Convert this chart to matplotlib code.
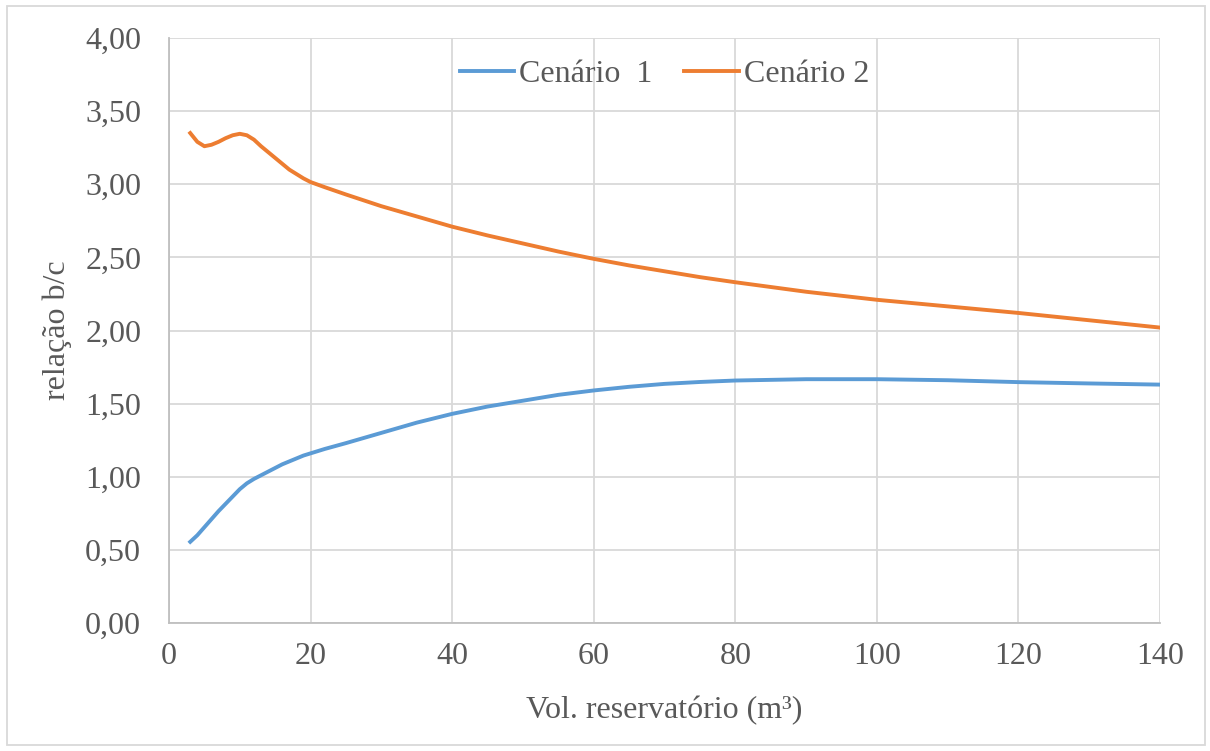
import matplotlib.pyplot as plt
from matplotlib.ticker import MultipleLocator, FuncFormatter
from matplotlib.patches import Rectangle

plt.rcParams['font.family'] = ['Liberation Serif', 'DejaVu Serif']

# volume do reservatorio (m3)
vol = [3, 4, 5, 6, 7, 8, 9, 10, 11, 12, 13, 14, 15, 16, 17, 18, 19, 20, 22,
       25, 30, 35, 40, 45, 50, 55, 60, 65, 70, 75, 80, 90, 100, 110, 120,
       130, 140]
cenario1 = [0.555, 0.60, 0.655, 0.71, 0.765, 0.815, 0.865, 0.915, 0.955,
            0.985, 1.01, 1.035, 1.06, 1.085, 1.105, 1.125, 1.145, 1.16, 1.19,
            1.23, 1.30, 1.37, 1.43, 1.48, 1.52, 1.56, 1.59, 1.615, 1.635,
            1.648, 1.658, 1.667, 1.667, 1.66, 1.647, 1.638, 1.63]
cenario2 = [3.35, 3.29, 3.26, 3.27, 3.29, 3.315, 3.335, 3.345, 3.335, 3.305,
            3.26, 3.22, 3.18, 3.14, 3.10, 3.07, 3.04, 3.015, 2.98, 2.93,
            2.85, 2.78, 2.71, 2.65, 2.595, 2.54, 2.49, 2.445, 2.405, 2.365,
            2.33, 2.265, 2.21, 2.165, 2.12, 2.07, 2.02]

txt = '#595959'

fig = plt.figure(figsize=(12.1, 7.51), dpi=100)
ax = fig.add_axes([169/1210, 1-623/751, (1160-169)/1210, (623-38)/751])

ax.plot(vol, cenario1, color='#5B9BD5', lw=2.8, label='Cenário  1')
ax.plot(vol, cenario2, color='#ED7D31', lw=2.8, label='Cenário 2')

ax.set_xlim(0, 140)
ax.set_ylim(0, 4)
ax.xaxis.set_major_locator(MultipleLocator(20))
ax.yaxis.set_major_locator(MultipleLocator(0.5))
ax.yaxis.set_major_formatter(FuncFormatter(lambda v, p: f'{v:.2f}'.replace('.', ',')))
ax.grid(True, color='#d9d9d9', lw=1.3)
ax.set_axisbelow(True)
for s in ['top', 'right']:
    ax.spines[s].set_visible(False)
for s in ['left', 'bottom']:
    ax.spines[s].set_color('#bfbfbf')
    ax.spines[s].set_linewidth(1.3)
ax.tick_params(axis='both', length=0, labelsize=23, labelcolor=txt)
ax.tick_params(axis='x', pad=14)
ax.tick_params(axis='y', pad=20)

ax.set_xlabel('Vol. reservatório (m³)', fontsize=23, color=txt)
ax.set_ylabel('relação b/c', fontsize=23, color=txt)
ax.xaxis.set_label_coords(0.5, -0.125)
ax.yaxis.set_label_coords(-0.098, 0.5)

ax.legend(loc='upper center', bbox_to_anchor=(0.5, 1.012), frameon=False, ncol=2,
          fontsize=23, labelcolor=txt, handlelength=1.7, handletextpad=0.15,
          columnspacing=1.0)

fig.patches.append(Rectangle((7/1210, 1-745/751), (1205-7)/1210, (745-6)/751,
                             transform=fig.transFigure, fill=False,
                             edgecolor='#d9d9d9', lw=1.3))

fig.savefig('out.png', dpi=100)
